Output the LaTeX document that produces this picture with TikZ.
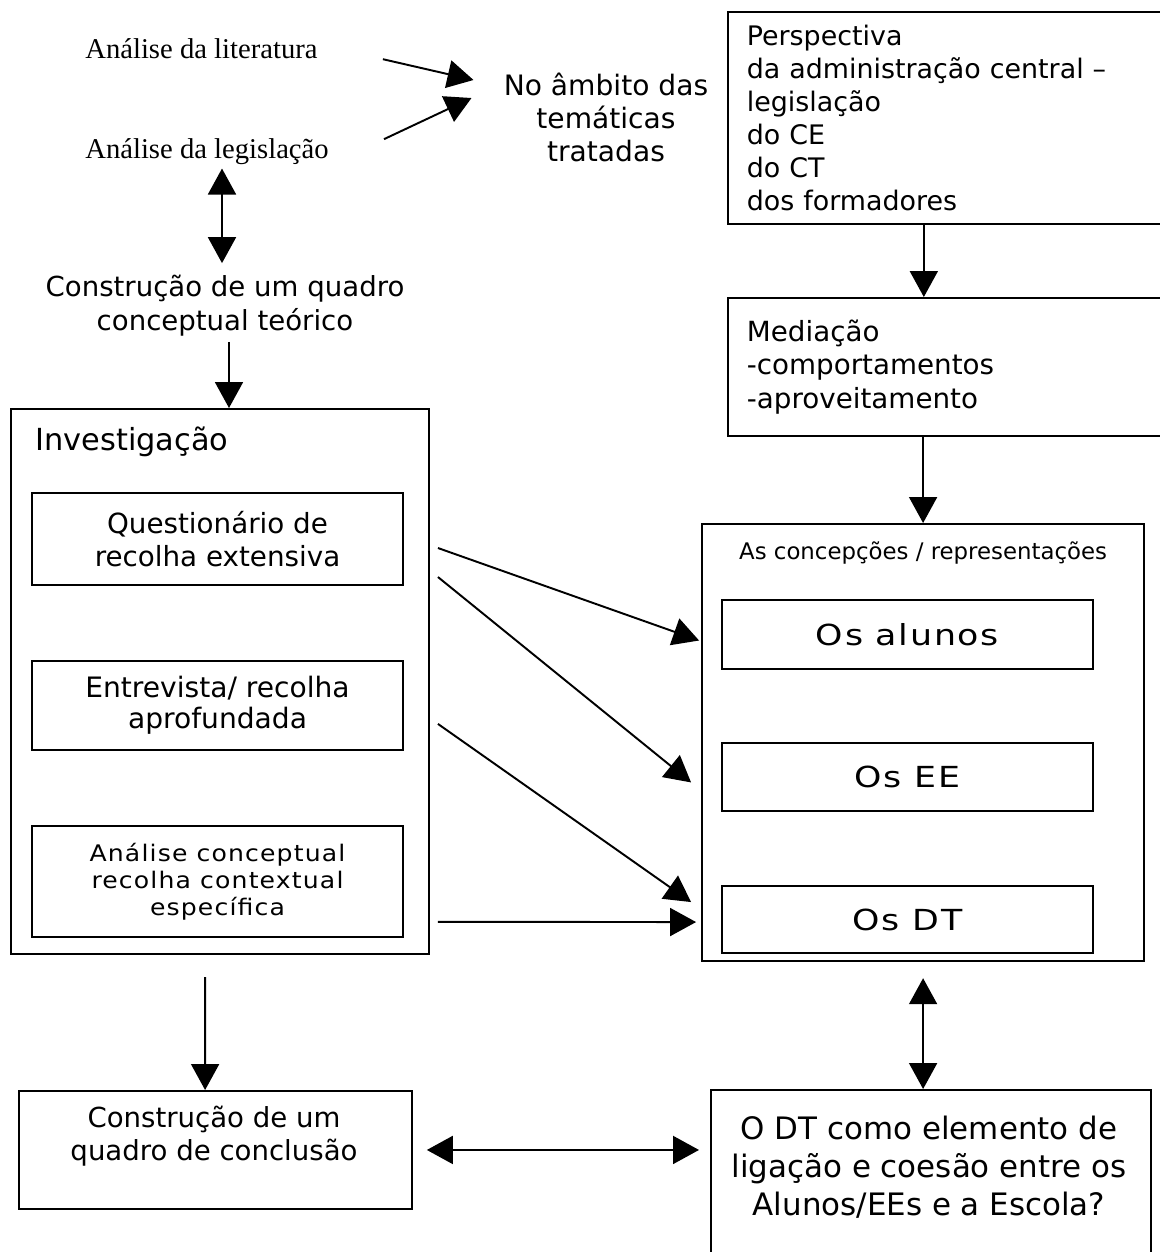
\documentclass[tikz,border=0pt]{standalone}
\usepackage{fontspec}
\setmainfont{DejaVu Sans}
\newfontfamily\serifnotes{Liberation Serif}
\newfontfamily\broad[FakeStretch=1.2, LetterSpace=6]{DejaVu Sans}
\newfontfamily\broadsmall[FakeStretch=1.1, LetterSpace=5]{DejaVu Sans}
\usepackage{tikz}
\usetikzlibrary{arrows.meta, positioning, calc}

\newcommand{\sizefont}[2]{\fontsize{#1}{#2}\selectfont}

\begin{document}
\begin{tikzpicture}[
    x=0.02cm, y=-0.02cm,
    frame/.style={rectangle, draw, line width=1.3pt, inner sep=0pt},
    panel/.style={rectangle, draw, line width=1pt, anchor=north west, minimum width=8.96cm, inner xsep=0.38cm, text width=8.2cm, align=left},
    box/.style={rectangle, draw, line width=1.1pt, minimum width=7.42cm, align=center},
    note/.style={inner sep=0pt, align=center},
    line/.style={draw, line width=1.1pt, -{Triangle[length=0.52cm, width=0.56cm]}},
    dline/.style={draw, line width=1.1pt, {Triangle[length=0.52cm, width=0.56cm]}-{Triangle[length=0.52cm, width=0.56cm]}}
]
\useasboundingbox (0,0) rectangle (1160,1252);
\clip (0,0) rectangle (1160,1252);

% Sources
\node [note, anchor=base west, font=\serifnotes\sizefont{16.3}{18}] (lit) at (85,58) {Análise da literatura};
\node [note, anchor=base west, font=\serifnotes\sizefont{16.3}{18}] (leg) at (85,158) {Análise da legislação};
\node [note, font=\sizefont{16}{18.8}] (ambito) at (606,117) {No âmbito das\\temáticas\\tratadas};
\node [note, font=\sizefont{15.7}{19.3}] (teoria) at (225,306) {Construção de um quadro\\conceptual teórico};

% Perspectives
\node [panel, minimum height=4.24cm, font=\sizefont{15.3}{18.8}] (persp) at (727,11) {Perspectiva\\da administração central –\\legislação\\do CE\\do CT\\dos formadores};
\node [panel, minimum height=2.76cm, font=\sizefont{15.8}{19}] (med) at (727,297) {Mediação\\-comportamentos\\-aproveitamento};

% Investigation
\node [frame, anchor=north west, minimum width=8.36cm, minimum height=10.9cm] (invest) at (10,408) {};
\node [note, anchor=base west, font=\sizefont{17.3}{20}] (investtit) at (35,450) {Investigação};
\node [box, minimum height=1.84cm, font=\sizefont{15.8}{18.8}] (quest) at (217.5,539) {Questionário de\\recolha extensiva};
\node [box, minimum height=1.78cm, below=1.48cm of quest, font=\sizefont{16}{18}] (entrev) {Entrevista/ recolha\\aprofundada};
\node [box, minimum height=2.22cm, below=1.48cm of entrev, font=\broadsmall\sizefont{13}{15.4}] (anal) {Análise conceptual\\recolha contextual\\específica};

% Conceptions
\node [frame, anchor=north west, minimum width=8.84cm, minimum height=8.74cm] (conc) at (701,523) {};
\node [note, below=0.36cm of conc.north, font=\sizefont{13}{15}] (conctit) {As concepções / representações};
\node [box, minimum height=1.37cm, font=\broad\sizefont{16.5}{20}] (alunos) at (907.5,634.5) {Os alunos};
\node [box, minimum height=1.37cm, below=1.44cm of alunos, font=\broad\sizefont{16.5}{20}] (ee) {Os EE};
\node [box, minimum height=1.34cm, below=1.46cm of ee, font=\broad\sizefont{16.5}{20}] (dt) {Os DT};

% Conclusions
\node [frame, line width=1.1pt, anchor=north west, minimum width=7.86cm, minimum height=2.36cm] (concl) at (18,1090) {};
\node [note, font=\sizefont{15.7}{18.8}] (concltxt) at (214,1136) {Construção de um\\quadro de conclusão};
\node [frame, line width=1.1pt, anchor=north west, minimum width=8.8cm, minimum height=4.4cm] (ligacao) at (710,1089) {};
\node [note, font=\sizefont{17.6}{21.6}] (ligtxt) at (929,1167) {O DT como elemento de\\ligação e coesão entre os\\Alunos/EEs e a Escola?};

% Connections
\draw [line] ([shift={(65,11)}]lit.east) -- ([shift={(-30,-37)}]ambito.west);
\draw [line] ([shift={(55,-12)}]leg.east) -- ([shift={(-32,-19)}]ambito.west);
\draw [dline] ($(leg.south -| teoria.north)+(-3,4)$) -- ($(teoria.north)+(-3,-12)$);
\draw [line] ([shift={(4,5)}]teoria.south) -- ($(teoria.south |- invest.north)+(4,0)$);
\draw [line] ([xshift=-0.56cm]persp.south) -- ([xshift=-0.56cm]med.north);
\draw [line] (med.south -| conc.north) -- (conc.north);
\draw [line] ([shift={(34,9)}]quest.east) -- ([shift={(-22,6)}]alunos.west);
\draw [line] ([shift={(34,38)}]quest.east) -- ([shift={(-30,5.5)}]ee.west);
\draw [line] ([shift={(34,18.5)}]entrev.east) -- ([shift={(-30,-17.5)}]dt.west);
\draw [line] ([shift={(34,40.5)}]anal.east) -- ([shift={(-25,2.5)}]dt.west);
\draw [line] ([shift={(-15,22)}]invest.south) -- ([xshift=-0.3cm]invest.south |- concl.north);
\draw [dline] ([xshift=0.28cm]concl.east) -- ([xshift=-0.22cm]concl.east -| ligacao.west);
\draw [dline] ([yshift=-0.32cm]conc.south) -- (conc.south |- ligacao.north);

\end{tikzpicture}
\end{document}
